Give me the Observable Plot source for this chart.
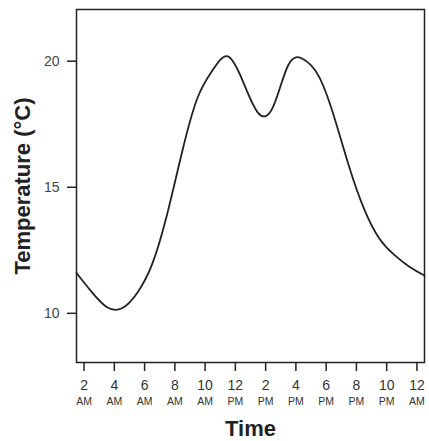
<!DOCTYPE html>
<html>
<head>
<meta charset="utf-8">
<script src="https://cdn.jsdelivr.net/npm/d3@7"></script>
<script src="https://cdn.jsdelivr.net/npm/@observablehq/plot@0.6"></script>
<style>
  html, body { margin: 0; padding: 0; background: #fff; }
  #chart svg { display: block; font-family: "Liberation Sans", Arial, sans-serif; }
</style>
</head>
<body>
<div id="chart"></div>
<script>
// Hour of day (2 = 2 AM, 24 = midnight) and temperature in °C
const hours = [1.5, 2.5, 3.5, 4.5, 5.5, 6.5, 7.5, 8.5, 9.5, 10.5, 11.5, 12.5, 13.5, 14.5, 15.5, 16.5, 17.5, 18.5, 19.5, 20.5, 21.5, 22.5, 23.5, 24.5];
const temps = [11.6, 10.85, 10.25, 10.2, 10.8, 11.95, 13.95, 16.45, 18.55, 19.65, 20.19, 19.2, 17.95, 18.2, 19.85, 20.08, 19.42, 17.85, 15.85, 14.15, 12.98, 12.32, 11.85, 11.5];

const xTicks = [2, 4, 6, 8, 10, 12, 14, 16, 18, 20, 22, 24];
const xTickNumbers = ["2", "4", "6", "8", "10", "12", "2", "4", "6", "8", "10", "12"];
const xTickPeriods = ["AM", "AM", "AM", "AM", "AM", "PM", "PM", "PM", "PM", "PM", "PM", "AM"];
const yTicks = [10, 15, 20];

const xTitle = "Time";
const yTitle = "Temperature (°C)";

const data = hours.map((h, i) => ({hour: h, temp: temps[i]}));
const numFmt = d => xTickNumbers[xTicks.indexOf(d)];
const perFmt = d => xTickPeriods[xTicks.indexOf(d)];

const chart = Plot.plot({
  width: 429,
  height: 441,
  marginLeft: 76,
  marginRight: 5,
  marginTop: 9,
  marginBottom: 79,
  style: {fontFamily: "Liberation Sans, Arial, sans-serif", color: "#333", background: "#fff"},
  x: {domain: [1.5, 24.5], axis: null},
  y: {domain: [8.05, 22.05], axis: null},
  marks: [
    Plot.axisY({ticks: yTicks, tickSize: 9, tickPadding: 8, fontSize: 14, label: null, stroke: "#222", strokeWidth: 1.5, fill: "#444"}),
    Plot.axisX({ticks: xTicks, tickSize: 9, tickPadding: 9, fontSize: 14, tickFormat: numFmt, label: null, stroke: "#222", strokeWidth: 1.5, fill: "#333"}),
    Plot.axisX({ticks: xTicks, tickSize: 0, tickPadding: 35, fontSize: 10.5, tickFormat: perFmt, label: null, fill: "#333"}),
    Plot.line(data, {x: "hour", y: "temp", curve: "natural", stroke: "#222", strokeWidth: 1.8}),
    Plot.frame({stroke: "#222", strokeWidth: 1.5}),
    Plot.text([xTitle], {frameAnchor: "bottom", text: d => d, dy: 73, lineAnchor: "bottom", fontSize: 22, fontWeight: "bold", fill: "#222"}),
    Plot.text([yTitle], {frameAnchor: "left", text: d => d, dx: -47, rotate: -90, textAnchor: "middle", lineAnchor: "bottom", fontSize: 22, fontWeight: "bold", fill: "#222"})
  ]
});
document.getElementById("chart").appendChild(chart);
</script>
</body>
</html>
